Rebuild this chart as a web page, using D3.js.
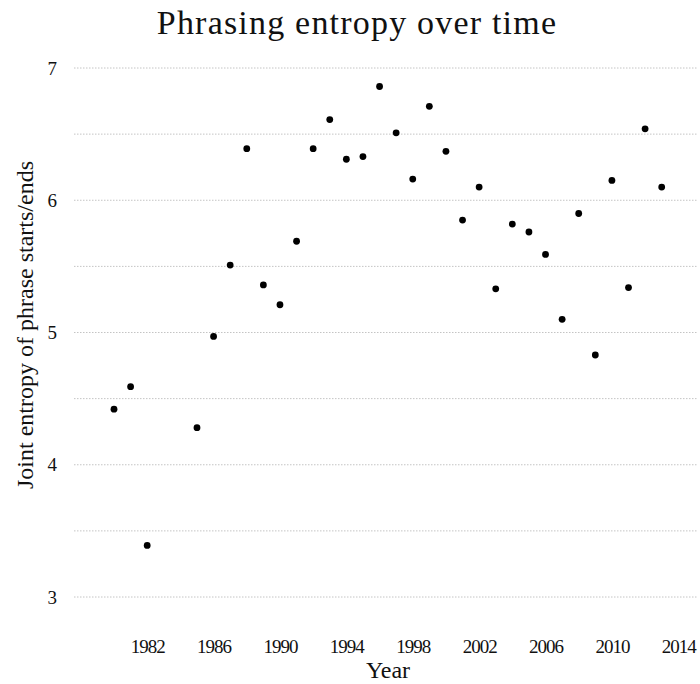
<!DOCTYPE html>
<html>
<head>
<meta charset="utf-8">
<script src="https://cdn.jsdelivr.net/npm/d3@7"></script>
<style>
  html, body { margin: 0; padding: 0; background: #fff; }
  svg { display: block; }
  text { font-family: "Liberation Serif", "Times New Roman", serif; fill: #111; }
</style>
</head>
<body>
<svg id="chart" width="700" height="684"></svg>
<script>
const years = [1980, 1981, 1982, 1985, 1986, 1987, 1988, 1989, 1990, 1991, 1992, 1993, 1994, 1995, 1996, 1997, 1998, 1999, 2000, 2001, 2002, 2003, 2004, 2005, 2006, 2007, 2008, 2009, 2010, 2011, 2012, 2013];
const entropy = [4.42, 4.59, 3.39, 4.28, 4.97, 5.51, 6.39, 5.36, 5.21, 5.69, 6.39, 6.61, 6.31, 6.33, 6.86, 6.51, 6.16, 6.71, 6.37, 5.85, 6.10, 5.33, 5.82, 5.76, 5.59, 5.10, 5.90, 4.83, 6.15, 5.34, 6.54, 6.10];
const xTicks = [1982, 1986, 1990, 1994, 1998, 2002, 2006, 2010, 2014];
const yTicks = [3, 4, 5, 6, 7];
const yGrid = [3, 3.5, 4, 4.5, 5, 5.5, 6, 6.5, 7];

const svg = d3.select("#chart");
const plotLeft = 74, plotRight = 698;

const x = d3.scaleLinear().domain([1980, 2014]).range([114, 678.3]);
const y = d3.scaleLinear().domain([3, 7]).range([597, 68]);

// gridlines
svg.append("g").selectAll("line").data(yGrid).join("line")
  .attr("x1", plotLeft).attr("x2", plotRight)
  .attr("y1", d => y(d)).attr("y2", d => y(d))
  .attr("stroke", "#c4c4c4").attr("stroke-width", 1)
  .attr("stroke-dasharray", "1.5,1.5");

// y axis (labels only)
const yAxis = d3.axisLeft(y).tickValues(yTicks).tickSize(0).tickPadding(0).tickFormat(d3.format("d"));
const gy = svg.append("g").attr("transform", `translate(57,0)`).call(yAxis);
gy.select(".domain").remove();
gy.selectAll("text").style("font-size", "19px").style("font-family", "'Liberation Serif', serif").attr("fill", "#111");

// x axis (labels only)
const xAxis = d3.axisBottom(x).tickValues(xTicks).tickSize(0).tickPadding(0).tickFormat(d3.format("d"));
const gx = svg.append("g").attr("transform", `translate(0,639)`).call(xAxis);
gx.select(".domain").remove();
gx.selectAll("text").style("font-size", "19px").style("letter-spacing", "-1px")
  .style("font-family", "'Liberation Serif', serif").attr("fill", "#111");

// points
svg.append("g").selectAll("circle").data(years.map((yr, i) => ({yr, v: entropy[i]}))).join("circle")
  .attr("cx", d => x(d.yr)).attr("cy", d => y(d.v)).attr("r", 3.4).attr("fill", "#000");

// title
svg.append("text").attr("x", 357).attr("y", 34).attr("text-anchor", "middle")
  .style("font-size", "34px").style("letter-spacing", "1.2px").text("Phrasing entropy over time");

// axis titles
svg.append("text").attr("x", 388).attr("y", 678).attr("text-anchor", "middle")
  .style("font-size", "24px").text("Year");
svg.append("text").attr("transform", "translate(33,325) rotate(-90)").attr("text-anchor", "middle")
  .style("font-size", "24px").text("Joint entropy of phrase starts/ends");
</script>
</body>
</html>
